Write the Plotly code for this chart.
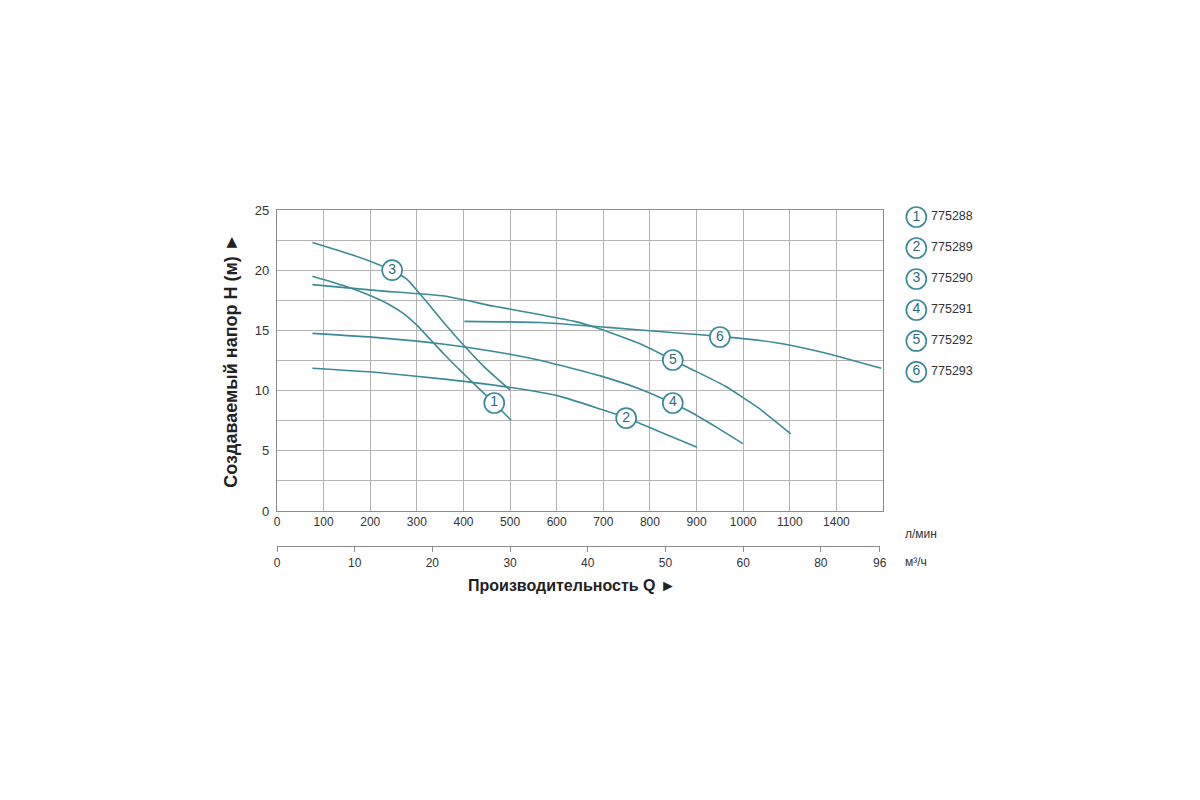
import plotly.graph_objects as go

# Pump head curves: flow in l/min, head in m
models = ['775288', '775289', '775290', '775291', '775292', '775293']

q1 = [76, 144, 202, 245, 273, 302, 330, 359, 395, 431, 466, 502]
h1 = [19.5, 18.7, 17.85, 17.05, 16.35, 15.35, 14.2, 13.0, 11.6, 10.25, 8.95, 7.55]

q2 = [76, 216, 359, 502, 609, 695, 749, 817, 901]
h2 = [11.85, 11.5, 10.95, 10.25, 9.5, 8.45, 7.75, 6.65, 5.3]

q3 = [76, 159, 216, 248, 280, 316, 359, 402, 445, 500]
h3 = [22.3, 21.3, 20.5, 19.95, 19.2, 17.6, 15.6, 13.7, 11.95, 10.05]

q4 = [76, 216, 359, 502, 566, 695, 781, 849, 888, 945, 999]
h4 = [14.75, 14.4, 13.85, 13.0, 12.5, 11.2, 10.1, 8.95, 8.2, 6.9, 5.6]

q5 = [76, 216, 359, 466, 566, 638, 695, 781, 849, 888, 960, 1031, 1102]
h5 = [18.8, 18.3, 17.85, 17.0, 16.3, 15.75, 15.1, 13.85, 12.55, 11.8, 10.4, 8.6, 6.4]

q6 = [402, 566, 709, 852, 950, 1067, 1174, 1296]
h6 = [15.75, 15.65, 15.25, 14.8, 14.5, 14.0, 13.15, 11.85]

# curve number labels sitting on the curves
label_q = [466, 749, 247, 849, 849, 950]
label_h = [8.97, 7.72, 20.0, 8.97, 12.54, 14.45]
label_txt = ['1', '2', '3', '4', '5', '6']

# x tick labels (l/min); last column labelled 1400 on the original
lpm_vals = [0, 100, 200, 300, 400, 500, 600, 700, 800, 900, 1000, 1100, 1200]
lpm_text = ['0', '100', '200', '300', '400', '500', '600', '700', '800', '900', '1000', '1100', '1400']

# m3/h scale positions (in l/min) and labels
m3h_vals = [0, 166.7, 333.3, 500, 666.7, 833.3, 1000, 1166.7, 1293]
m3h_text = ['0', '10', '20', '30', '40', '50', '60', '80', '96']

teal = '#3a8b97'
dark = '#2b6c77'
font = 'Liberation Sans, Arial, sans-serif'

fig = go.Figure()

for q, h in [(q1, h1), (q2, h2), (q3, h3), (q4, h4), (q5, h5), (q6, h6)]:
    fig.add_trace(go.Scatter(x=q, y=h, mode='lines',
                             line=dict(color=teal, width=1.6, shape='spline', smoothing=0.5),
                             hoverinfo='skip', showlegend=False))

fig.add_trace(go.Scatter(x=label_q, y=label_h, mode='markers+text', text=label_txt,
                         textposition='middle center',
                         textfont=dict(family=font, size=14, color=dark),
                         marker=dict(size=20, color='white', line=dict(color=teal, width=1.7)),
                         showlegend=False, cliponaxis=False))

# hidden trace so the m3/h axis gets drawn
fig.add_trace(go.Scatter(x=[0, 1293], y=[0, 0], xaxis='x2', yaxis='y2', mode='lines',
                         line=dict(width=0), hoverinfo='skip', showlegend=False))

# legend block at the right
legend_y = list(range(len(models)))
fig.add_trace(go.Scatter(x=[0.13] * len(models), y=legend_y, mode='markers+text',
                         text=label_txt, textposition='middle center',
                         textfont=dict(family=font, size=14, color=dark),
                         marker=dict(size=20, color='white', line=dict(color=teal, width=1.7)),
                         xaxis='x3', yaxis='y3', showlegend=False, cliponaxis=False))
fig.add_trace(go.Scatter(x=[0.225] * len(models), y=legend_y, mode='text',
                         text=models, textposition='middle right',
                         textfont=dict(family=font, size=12.5, color='#333333'),
                         xaxis='x3', yaxis='y3', showlegend=False, cliponaxis=False))

fig.update_layout(
    width=1200, height=800,
    paper_bgcolor='white', plot_bgcolor='white',
    margin=dict(l=269, r=157, t=202, b=247),
    font=dict(family=font, color='#333333'),
    xaxis=dict(domain=[0, 0.783], range=[0, 1300], tickvals=lpm_vals, ticktext=lpm_text,
               showgrid=True, gridcolor='#b4b4b4', gridwidth=1,
               showline=True, linecolor='#8c8c8c', linewidth=1.2, mirror=True,
               ticks='', tickfont=dict(size=12, color='#333333'), zeroline=False,
               anchor='y'),
    yaxis=dict(domain=[0.1425, 1], range=[0, 25], tickvals=[0, 5, 10, 15, 20, 25],
               showgrid=True, gridcolor='#b4b4b4', gridwidth=1,
               minor=dict(dtick=2.5, showgrid=True, gridcolor='#b4b4b4', gridwidth=1),
               showline=True, linecolor='#8c8c8c', linewidth=1.2, mirror=True,
               ticks='', tickfont=dict(size=13, color='#333333'), zeroline=False,
               ticklabelstandoff=4,
               title=dict(text='<b>Создаваемый напор H (м) ►</b>',
                          font=dict(size=18, color='#222222'), standoff=12)),
    xaxis2=dict(domain=[0, 0.779], range=[0, 1293.5], tickvals=m3h_vals, ticktext=m3h_text,
                anchor='y2', showgrid=False, zeroline=False,
                showline=True, linecolor='#8c8c8c', linewidth=1.2,
                ticks='outside', ticklen=5, tickcolor='#8c8c8c',
                tickfont=dict(size=12, color='#333333')),
    yaxis2=dict(domain=[0.0427, 0.1], range=[0, 1], visible=False),
    xaxis3=dict(domain=[0.8, 1], range=[0, 1], visible=False),
    yaxis3=dict(domain=[0, 1], range=[11.1, -0.226], visible=False),
    annotations=[
        dict(text='<b>Производительность Q ►</b>', x=(571 - 276) / 774, y=(560 - 584) / 351,
             xref='paper', yref='paper', xanchor='center', yanchor='middle', showarrow=False,
             font=dict(size=16, color='#222222')),
        dict(text='л/мин', x=(920 - 276) / 774, y=(560 - 533) / 351,
             xref='paper', yref='paper', xanchor='center', yanchor='middle', showarrow=False,
             font=dict(size=12, color='#333333')),
        dict(text='м³/ч', x=(915 - 276) / 774, y=(560 - 561) / 351,
             xref='paper', yref='paper', xanchor='center', yanchor='middle', showarrow=False,
             font=dict(size=12, color='#333333')),
    ],
)

fig.write_html("out.html")
